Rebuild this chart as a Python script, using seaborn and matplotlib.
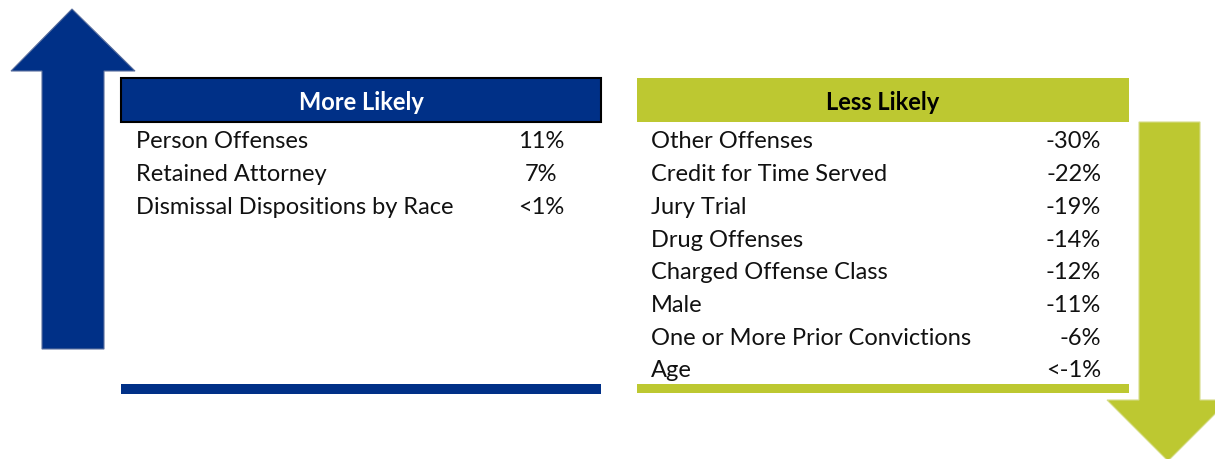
import seaborn as sns
import matplotlib.pyplot as plt
from matplotlib.patches import Rectangle, Polygon

sns.set_theme(style="white")
plt.rcParams['font.family'] = ['Lato', 'DejaVu Sans']

BLUE = '#003087'
GREEN = '#BDC831'

more_title = 'More Likely'
more_labels = ['Person Offenses', 'Retained Attorney', 'Dismissal Dispositions by Race']
more_values = ['11%', '7%', '<1%']

less_title = 'Less Likely'
less_labels = ['Other Offenses', 'Credit for Time Served', 'Jury Trial', 'Drug Offenses',
               'Charged Offense Class', 'Male', 'One or More Prior Convictions', 'Age']
less_values = ['-30%', '-22%', '-19%', '-14%', '-12%', '-11%', '-6%', '<-1%']

fig = plt.figure(figsize=(12.15, 4.6), dpi=100)
ax = fig.add_axes([0, 0, 1, 1])
ax.set_xlim(0, 1215)
ax.set_ylim(460, 0)
ax.axis('off')

# up arrow (blue)
ax.add_patch(Polygon([(42, 350), (42, 72), (11, 72), (72, 10), (135, 72), (104, 72), (104, 350)],
                     closed=True, facecolor=BLUE, edgecolor='#5a6f9e', lw=0.8))
# down arrow (green)
ax.add_patch(Polygon([(1139, 123), (1139, 401), (1107, 401), (1168, 462), (1229, 401), (1200, 401), (1200, 123)],
                     closed=True, facecolor=GREEN, edgecolor='#d6dc8a', lw=0.8))

fs = 17

# headers
ax.add_patch(Rectangle((121, 79), 480, 44, facecolor=BLUE, edgecolor='black', lw=1.5))
ax.text(361, 103, more_title, color='white', fontsize=fs, fontweight='bold', ha='center', va='center')
ax.add_patch(Rectangle((637, 79), 492, 44, facecolor=GREEN, edgecolor='none'))
ax.text(883, 103, less_title, color='black', fontsize=fs, fontweight='bold', ha='center', va='center')

# bottom bars
ax.add_patch(Rectangle((121, 385), 480, 10, facecolor=BLUE, edgecolor='none'))
ax.add_patch(Rectangle((637, 385), 492, 9, facecolor=GREEN, edgecolor='none'))

row_h = 32.7
for i, (lab, val) in enumerate(zip(more_labels, more_values)):
    y = 142 + i * row_h
    ax.text(136, y, lab, fontsize=fs, color='#111111', ha='left', va='center')
    ax.text(541, y, val, fontsize=fs, color='#111111', ha='center', va='center')

for i, (lab, val) in enumerate(zip(less_labels, less_values)):
    y = 142 + i * row_h
    ax.text(651, y, lab, fontsize=fs, color='#111111', ha='left', va='center')
    ax.text(1101, y, val, fontsize=fs, color='#111111', ha='right', va='center')

fig.savefig('out.png', dpi=100)
